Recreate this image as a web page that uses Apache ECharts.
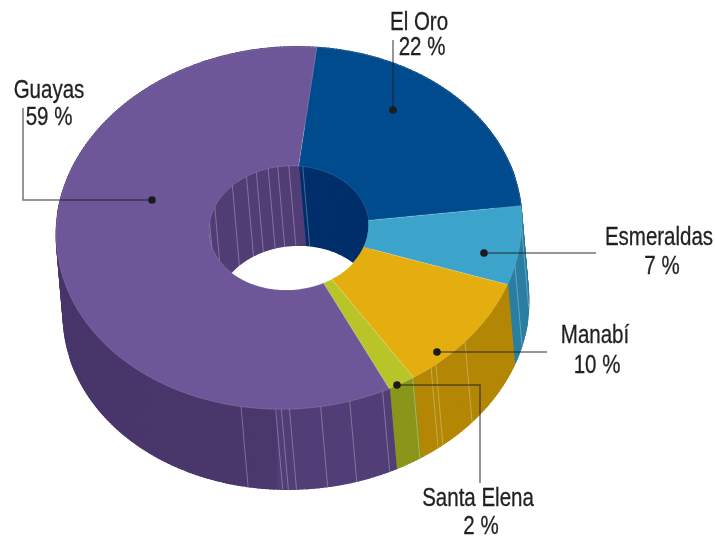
<!DOCTYPE html>
<html><head><meta charset="utf-8">
<style>html,body{margin:0;padding:0;background:#fff}#c{width:715px;height:536px}</style>
<script src="https://cdn.jsdelivr.net/npm/echarts@6/dist/echarts.min.js"></script>
</head><body><div id="c"></div>
<script>
// --- data ---
const categories = ['El Oro', 'Esmeraldas', 'Manabí', 'Santa Elena', 'Guayas'];
const shares = [21.7, 7.0, 10.4, 1.9, 59.0];

// --- styles ---
const topColors = ['#004b8d', '#3ca4cb', '#e5ae0f', '#b8c428', '#6d5799'];
const wallColors = ['#003f7a', '#2a7fa2', '#b38705', '#8a961a', '#473566'];
const innerColors = ['#002f6b', '#2a7fa2', '#b38705', '#8a961a', '#523e76'];
const outerSeams = [[], [95, 107], [134, 144, 145.5], [151], [159.4, 168, 175.3, 183, 185, 186.4, 195]];
const innerSeams = [[13], [], [], [], [270, 280, 295, 318, 331, 339, 348, 355, 3]];

// --- projection of the ring ---
const START = 10, CX = 289, CY = 228, RX = 233, RY = 181, HX = 80, HY = 62;
const DX = 7, DY = 80, TILT = -0.07, STEP = 1;
const total = shares.reduce((a, b) => a + b, 0);
function sliceRange(i) {
  let s = 0;
  for (let k = 0; k < i; k++) s += shares[k];
  return [START + s / total * 360, START + (s + shares[i]) / total * 360];
}
function pt(a, rx, ry, low) {
  const r = a * Math.PI / 180, x = rx * Math.sin(r), y = -ry * Math.cos(r);
  return [CX + x * Math.cos(TILT) - y * Math.sin(TILT) + (low ? DX : 0),
          CY + x * Math.sin(TILT) + y * Math.cos(TILT) + (low ? DY : 0)];
}
function arc(a0, a1, rx, ry, low) {
  const pts = [], n = Math.max(2, Math.ceil(Math.abs(a1 - a0) / STEP));
  for (let i = 0; i <= n; i++) pts.push(pt(a0 + (a1 - a0) * i / n, rx, ry, low));
  return pts;
}
// the extruded wall is the union of one quad per arc step, so it also fills the tangent sides
function band(a0, a1, rx, ry, fill) {
  const t = arc(a0, a1, rx, ry, false), b = arc(a0, a1, rx, ry, true), quads = [];
  for (let i = 0; i + 1 < t.length; i++) {
    quads.push({ type: 'polygon', silent: true, shape: { points: [t[i], t[i + 1], b[i + 1], b[i]] },
                 style: { fill: fill, stroke: fill, lineWidth: 1.3 } });
  }
  return quads;
}
function seam(a, rx, ry) {
  return { type: 'line', shape: (p => ({ x1: p[0][0], y1: p[0][1], x2: p[1][0], y2: p[1][1] }))([pt(a, rx, ry, false), pt(a, rx, ry, true)]),
           style: { stroke: 'rgba(255,255,255,0.28)', lineWidth: 1 }, silent: true };
}
function guayasWall() {
  const s = (x) => (x - 50) / 490;
  return { type: 'linear', x: 50, y: 0, x2: 540, y2: 0, global: true, colorStops: [
    { offset: 0, color: '#47356a' }, { offset: s(277), color: '#4a376c' },
    { offset: s(277.5), color: '#523e76' }, { offset: 1, color: '#523e76' }] };
}

// --- labels and leaders ---
const labelLayout = [
  { name: [419, 23], val: [422, 48], path: [[393, 110], [393, 40]] },
  { name: [659, 238], val: [662, 267], path: [[484, 253], [596, 253]] },
  { name: [595, 336], val: [597, 366], path: [[437, 352], [547, 352]] },
  { name: [478, 499], val: [481, 527], path: [[397, 385], [480, 385], [480, 483]] },
  { name: [49, 91], val: [49, 118], path: [[152, 200], [23, 200], [23, 108]] }
];
const font = '25px "Liberation Sans", sans-serif';
function txt(t, p) {
  return { type: 'text', x: p[0], y: p[1], scaleX: 0.82, silent: true,
           style: { text: t, font: font, fill: '#231f20', stroke: '#231f20', lineWidth: 0.3, align: 'center', verticalAlign: 'middle' } };
}

function layer(z, fn, data) {
  return { type: 'custom', coordinateSystem: 'none', z: z, silent: true, clip: false, animation: false,
           data: data || shares, renderItem: fn };
}
const chart = echarts.init(document.getElementById('c'), null, { renderer: 'canvas' });
chart.setOption({
  animation: false,
  backgroundColor: '#fff',
  series: [
    layer(1, (p) => {
      const i = p.dataIndex, r = sliceRange(i);
      const fill = categories[i] === 'Guayas' ? guayasWall() : wallColors[i];
      return { type: 'group', children: band(r[0], r[1], RX, RY, fill).concat(outerSeams[i].map(a => seam(a, RX, RY))) };
    }),
    layer(2, () => ({ type: 'polygon', shape: { points: arc(0, 360, HX, HY, false) }, style: { fill: '#fff' }, silent: true }), [1]),
    layer(3, (p) => {
      const i = p.dataIndex, r = sliceRange(i);
      return { type: 'group', children: band(r[0], r[1], HX, HY, innerColors[i]).concat(innerSeams[i].map(a => seam(a, HX, HY))) };
    }),
    layer(4, () => ({ type: 'polygon', shape: { points: arc(0, 360, HX, HY, true) }, style: { fill: '#fff' }, silent: true }), [1]),
    layer(5, (p) => {
      const i = p.dataIndex, r = sliceRange(i);
      return { type: 'polygon', silent: true,
        shape: { points: arc(r[0], r[1], RX, RY, false).concat(arc(r[1], r[0], HX, HY, false)) },
        style: { fill: topColors[i], stroke: 'rgba(255,255,255,0.22)', lineWidth: 0.6 } };
    }),
    layer(6, (p) => {
      const i = p.dataIndex, L = labelLayout[i], d = L.path[0];
      return { type: 'group', children: [
        { type: 'polyline', silent: true, shape: { points: L.path }, style: { fill: 'none', stroke: 'rgba(30,30,30,0.62)', lineWidth: 1.5 } },
        { type: 'circle', silent: true, shape: { cx: d[0], cy: d[1], r: 3.8 }, style: { fill: '#1c1a1b' } },
        txt(categories[i], L.name),
        txt(Math.round(shares[i]) + ' %', L.val)
      ] };
    })
  ]
});
</script></body></html>
